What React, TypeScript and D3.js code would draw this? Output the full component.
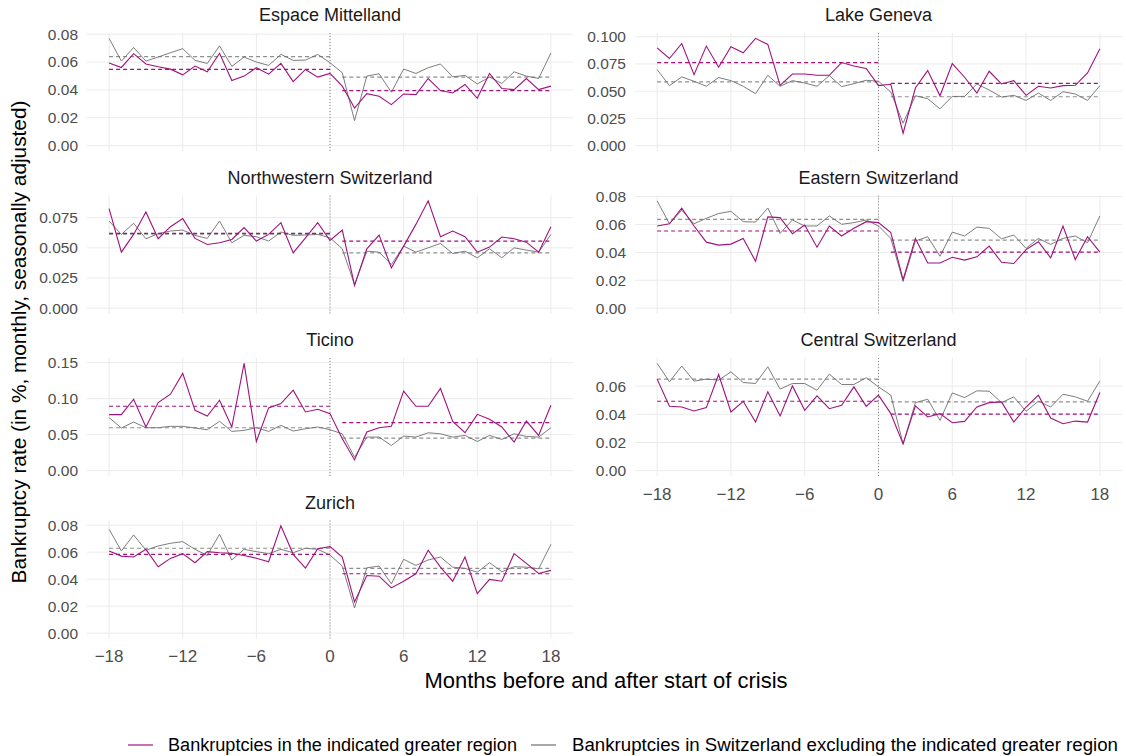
import React from 'react';
import * as d3 from 'd3';

// Months relative to the start of the crisis
const months = d3.range(-18, 19);
const xTicks = [-18, -12, -6, 0, 6, 12, 18];

// Monthly bankruptcy rates: region vs. rest of Switzerland
const espaceRegion = [0.0593, 0.0561, 0.066, 0.0586, 0.0566, 0.0549, 0.0508, 0.0571, 0.053, 0.0663, 0.0467, 0.0499, 0.0559, 0.0513, 0.059, 0.046, 0.0547, 0.0492, 0.0518, 0.0427, 0.027, 0.0373, 0.0354, 0.0294, 0.0371, 0.0366, 0.0482, 0.0395, 0.0378, 0.0439, 0.034, 0.0518, 0.041, 0.0402, 0.0482, 0.0402, 0.0427];
const espaceRest = [0.077, 0.0607, 0.0704, 0.0607, 0.0636, 0.0667, 0.0696, 0.0612, 0.059, 0.0716, 0.0569, 0.0636, 0.06, 0.0576, 0.0655, 0.0612, 0.0614, 0.0655, 0.0595, 0.0523, 0.018, 0.0499, 0.0516, 0.0383, 0.055, 0.0518, 0.0559, 0.0586, 0.0494, 0.0504, 0.0443, 0.0492, 0.0446, 0.053, 0.0499, 0.0482, 0.0665];

const genevaRegion = [0.0898, 0.08, 0.0938, 0.0652, 0.0914, 0.072, 0.0908, 0.0852, 0.0985, 0.0929, 0.0554, 0.0658, 0.0658, 0.0646, 0.0646, 0.0763, 0.0732, 0.0708, 0.0551, 0.0563, 0.0114, 0.0529, 0.0689, 0.0458, 0.0754, 0.0628, 0.0483, 0.0683, 0.0566, 0.0597, 0.0462, 0.0545, 0.0529, 0.0551, 0.0554, 0.0668, 0.0889];
const genevaRest = [0.0698, 0.0551, 0.0631, 0.0591, 0.0545, 0.0625, 0.0597, 0.0545, 0.0477, 0.0646, 0.0545, 0.0597, 0.0575, 0.0545, 0.0643, 0.0542, 0.0569, 0.06, 0.0591, 0.0492, 0.0206, 0.0458, 0.0431, 0.0338, 0.0452, 0.0452, 0.0566, 0.0511, 0.0446, 0.0462, 0.0415, 0.0483, 0.0415, 0.0495, 0.0474, 0.0415, 0.0551];

const northwestRegion = [0.0825, 0.0464, 0.0611, 0.0797, 0.0575, 0.0675, 0.0742, 0.0578, 0.0528, 0.0542, 0.0569, 0.0667, 0.0556, 0.0611, 0.0708, 0.0458, 0.0583, 0.0708, 0.0561, 0.0647, 0.0189, 0.0492, 0.0606, 0.0333, 0.0514, 0.0694, 0.0889, 0.0592, 0.0639, 0.0592, 0.0464, 0.0506, 0.0589, 0.0575, 0.0547, 0.0464, 0.0675];
const northwestRest = [0.0722, 0.0611, 0.0703, 0.0575, 0.0617, 0.0639, 0.0647, 0.0603, 0.0578, 0.0722, 0.0542, 0.0603, 0.0592, 0.0556, 0.0631, 0.0603, 0.0606, 0.0611, 0.0583, 0.0492, 0.0194, 0.0472, 0.0464, 0.0361, 0.0514, 0.0464, 0.05, 0.0536, 0.0453, 0.0472, 0.0417, 0.0492, 0.0417, 0.05, 0.0481, 0.0464, 0.0611];

const easternRegion = [0.0589, 0.0605, 0.0716, 0.0589, 0.0473, 0.0452, 0.0459, 0.05, 0.0336, 0.0654, 0.0649, 0.0533, 0.0596, 0.0437, 0.0589, 0.0517, 0.0572, 0.062, 0.0613, 0.0541, 0.0204, 0.05, 0.0324, 0.0324, 0.0365, 0.0344, 0.0368, 0.0445, 0.0329, 0.032, 0.042, 0.0476, 0.036, 0.0589, 0.0348, 0.0512, 0.0401];
const easternRest = [0.0769, 0.0605, 0.0702, 0.0605, 0.0644, 0.0678, 0.0694, 0.062, 0.0617, 0.0718, 0.0536, 0.0632, 0.0589, 0.0589, 0.0661, 0.0601, 0.0613, 0.0632, 0.0589, 0.05, 0.0192, 0.0481, 0.0512, 0.0372, 0.0545, 0.0517, 0.0581, 0.0572, 0.0497, 0.0524, 0.0428, 0.05, 0.0457, 0.05, 0.0517, 0.0469, 0.0661];

const ticinoRegion = [0.0778, 0.0778, 0.0992, 0.0606, 0.0946, 0.1062, 0.1351, 0.0838, 0.0759, 0.0978, 0.0606, 0.149, 0.0405, 0.0871, 0.0932, 0.1118, 0.0815, 0.0852, 0.0792, 0.0442, 0.0149, 0.0536, 0.0596, 0.0615, 0.1104, 0.0894, 0.0894, 0.1141, 0.0685, 0.0526, 0.0782, 0.0713, 0.0606, 0.0396, 0.0689, 0.0489, 0.0908];
const ticinoRest = [0.0736, 0.0592, 0.0675, 0.0596, 0.0596, 0.0615, 0.0615, 0.0592, 0.0568, 0.0685, 0.0545, 0.0559, 0.0596, 0.0545, 0.0629, 0.055, 0.0582, 0.0606, 0.0568, 0.0512, 0.0186, 0.0466, 0.0466, 0.0349, 0.048, 0.0466, 0.0526, 0.0512, 0.0466, 0.0489, 0.0405, 0.0489, 0.0433, 0.0512, 0.0475, 0.0466, 0.0596];

const centralRegion = [0.065, 0.0457, 0.0452, 0.0424, 0.0448, 0.0683, 0.0417, 0.0493, 0.0345, 0.056, 0.0388, 0.0602, 0.0429, 0.0531, 0.044, 0.0464, 0.0595, 0.0457, 0.0536, 0.0405, 0.019, 0.046, 0.0381, 0.0405, 0.034, 0.035, 0.0452, 0.0483, 0.0488, 0.0345, 0.0452, 0.0536, 0.0374, 0.0333, 0.0352, 0.0345, 0.0555];
const centralRest = [0.0762, 0.0631, 0.0743, 0.0636, 0.065, 0.0643, 0.0702, 0.0626, 0.0619, 0.0738, 0.0579, 0.0619, 0.0619, 0.0571, 0.0686, 0.0612, 0.0612, 0.066, 0.0595, 0.0536, 0.019, 0.0483, 0.0507, 0.0357, 0.0552, 0.0519, 0.0567, 0.0564, 0.0483, 0.0524, 0.0421, 0.0493, 0.0452, 0.0543, 0.0524, 0.0493, 0.0636];

const zurichRegion = [0.0609, 0.0571, 0.0564, 0.0621, 0.0492, 0.0554, 0.0589, 0.0522, 0.0604, 0.0596, 0.0591, 0.0575, 0.0555, 0.0529, 0.0795, 0.0584, 0.0482, 0.0626, 0.0641, 0.0564, 0.0231, 0.0427, 0.0422, 0.0335, 0.0385, 0.044, 0.0614, 0.0489, 0.0385, 0.0564, 0.0293, 0.0398, 0.0385, 0.0589, 0.0517, 0.0442, 0.0465];
const zurichRest = [0.077, 0.0609, 0.0728, 0.0614, 0.0646, 0.0666, 0.0678, 0.0621, 0.0576, 0.0733, 0.0542, 0.0621, 0.0604, 0.0589, 0.0621, 0.0596, 0.0629, 0.0621, 0.0579, 0.0497, 0.0186, 0.0484, 0.0497, 0.0365, 0.0547, 0.0502, 0.0542, 0.0564, 0.0489, 0.048, 0.0452, 0.0522, 0.0455, 0.0492, 0.0489, 0.0477, 0.0658];

// Period means: [region before, region after, rest before, rest after]
const espaceMeans = [0.0547, 0.0395, 0.0639, 0.0492];
const genevaMeans = [0.0763, 0.0572, 0.0585, 0.0449];
const northwestMeans = [0.0619, 0.0556, 0.0614, 0.0458];
const easternMeans = [0.0553, 0.0401, 0.0637, 0.0488];
const ticinoMeans = [0.0894, 0.0666, 0.0596, 0.0452];
const centralMeans = [0.0493, 0.0402, 0.065, 0.0488];
const zurichMeans = [0.0584, 0.044, 0.0629, 0.048];

// y tick values per panel
const ticks02 = [0, 0.02, 0.04, 0.06, 0.08];
const ticks025 = [0, 0.025, 0.05, 0.075, 0.1];
const ticks05 = [0, 0.05, 0.1, 0.15];

const panels = [
  { name: 'Espace Mittelland', region: espaceRegion, rest: espaceRest, means: espaceMeans, ticks: ticks02, col: 0, row: 0 },
  { name: 'Lake Geneva', region: genevaRegion, rest: genevaRest, means: genevaMeans, ticks: ticks025, col: 1, row: 0 },
  { name: 'Northwestern Switzerland', region: northwestRegion, rest: northwestRest, means: northwestMeans, ticks: ticks025.slice(0, 4), col: 0, row: 1 },
  { name: 'Eastern Switzerland', region: easternRegion, rest: easternRest, means: easternMeans, ticks: ticks02, col: 1, row: 1 },
  { name: 'Ticino', region: ticinoRegion, rest: ticinoRest, means: ticinoMeans, ticks: ticks05, col: 0, row: 2 },
  { name: 'Central Switzerland', region: centralRegion, rest: centralRest, means: centralMeans, ticks: ticks02.slice(0, 4), col: 1, row: 2, xAxis: true },
  { name: 'Zurich', region: zurichRegion, rest: zurichRest, means: zurichMeans, ticks: ticks02, col: 0, row: 3, xAxis: true },
];

const MAGENTA = '#a0127c';
const GREY = '#6e6e6e';
const GREY_DASH = '#8f8f8f';
const GRID = '#ebebeb';
const FONT = '"Liberation Sans", Arial, Helvetica, sans-serif';

const COLS = [[87, 573], [635, 1122]];
const TOP = 33;
const ROW_STEP = 162.5;
const PANEL_H = 118;

// same number of decimals on every label of an axis, like ggplot
const decimals = (ticks: number[]) => Math.max(...ticks.map((t) => (String(t).split('.')[1] || '').length));

function Panel({ p }: { p: (typeof panels)[number] }) {
  const [x0, x1] = COLS[p.col];
  const top = TOP + p.row * ROW_STEP;
  const x = d3.scaleLinear().domain([-19.8, 19.8]).range([x0, x1]);
  const yMax = d3.max([...p.region, ...p.rest]) as number;
  const pad = yMax * 0.05;
  const y = d3.scaleLinear().domain([-pad, yMax + pad]).range([top + PANEL_H, top]);
  const fmt = d3.format(`.${decimals(p.ticks)}f`);
  const line = d3.line<number>().x((_, i) => x(months[i])).y((d) => y(d));
  const before = [-18, 0];
  const after = [1, 18];

  return (
    <g>
      <text x={(x0 + x1) / 2} y={top - 18} dy="0.35em" textAnchor="middle" fontSize={18} fill="#1a1a1a">
        {p.name}
      </text>
      {p.ticks.map((t) => (
        <g key={`y${t}`}>
          <line x1={x0} x2={x1} y1={y(t)} y2={y(t)} stroke={GRID} strokeWidth={1} />
          <text x={x0 - 9} y={y(t)} dy="0.35em" textAnchor="end" fontSize={15.5} fill="#4d4d4d">
            {fmt(t)}
          </text>
        </g>
      ))}
      {xTicks.map((t) => (
        <line key={`x${t}`} x1={x(t)} x2={x(t)} y1={top} y2={top + PANEL_H} stroke={GRID} strokeWidth={1} />
      ))}
      {p.xAxis &&
        xTicks.map((t) => (
          <text key={`xl${t}`} x={x(t)} y={top + PANEL_H + 18} dy="0.35em" textAnchor="middle" fontSize={17} fill="#4d4d4d">
            {t < 0 ? `\u2212${-t}` : t}
          </text>
        ))}
      <line x1={x(0)} x2={x(0)} y1={top} y2={top + PANEL_H} stroke="#888" strokeWidth={1} strokeDasharray="1,2" />
      <line x1={x(before[0])} x2={x(before[1])} y1={y(p.means[2])} y2={y(p.means[2])} stroke={GREY_DASH} strokeWidth={1.2} strokeDasharray="4,3" />
      <line x1={x(after[0])} x2={x(after[1])} y1={y(p.means[3])} y2={y(p.means[3])} stroke={GREY_DASH} strokeWidth={1.2} strokeDasharray="4,3" />
      <path d={line(p.rest) || ''} fill="none" stroke={GREY} strokeWidth={0.9} />
      <path d={line(p.region) || ''} fill="none" stroke={MAGENTA} strokeWidth={1.1} />
      <line x1={x(before[0])} x2={x(before[1])} y1={y(p.means[0])} y2={y(p.means[0])} stroke={MAGENTA} strokeWidth={1.2} strokeDasharray="4,3" />
      <line x1={x(after[0])} x2={x(after[1])} y1={y(p.means[1])} y2={y(p.means[1])} stroke={MAGENTA} strokeWidth={1.2} strokeDasharray="4,3" />
    </g>
  );
}

export default function App() {
  return (
    <svg
      width={1126}
      height={756}
      style={{ position: 'absolute', left: 0, top: 0, background: '#fff', fontFamily: FONT }}
    >
      {panels.map((p) => (
        <Panel key={p.name} p={p} />
      ))}
      <text x={606} y={680} dy="0.35em" textAnchor="middle" fontSize={22} fill="#000">
        Months before and after start of crisis
      </text>
      <text transform="translate(19,342) rotate(-90)" dy="0.35em" textAnchor="middle" fontSize={20.8} fill="#000">
        Bankruptcy rate (in %, monthly, seasonally adjusted)
      </text>
      <line x1={128} x2={153} y1={745} y2={745} stroke={MAGENTA} strokeWidth={1.2} />
      <text x={168} y={745} dy="0.35em" fontSize={18} fill="#000" textLength={349} lengthAdjust="spacingAndGlyphs">
        Bankruptcies in the indicated greater region
      </text>
      <line x1={531} x2={556} y1={745} y2={745} stroke={GREY} strokeWidth={1.2} />
      <text x={572} y={745} dy="0.35em" fontSize={18} fill="#000" textLength={546} lengthAdjust="spacingAndGlyphs">
        Bankruptcies in Switzerland excluding the indicated greater region
      </text>
    </svg>
  );
}
